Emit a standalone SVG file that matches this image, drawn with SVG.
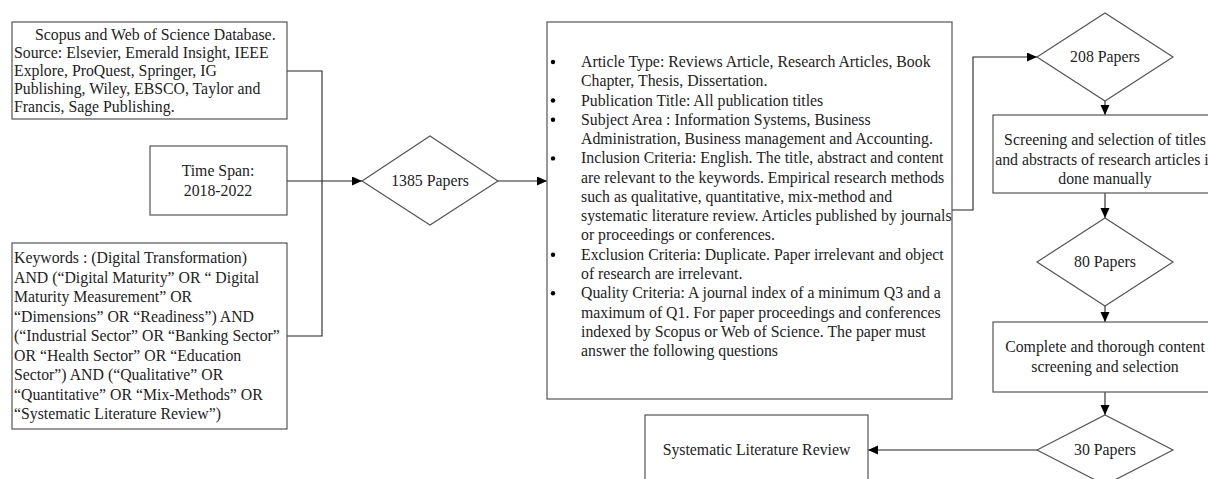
<svg xmlns="http://www.w3.org/2000/svg" width="1208" height="479" viewBox="0 0 1208 479">
<style>
.box{fill:#fff;stroke:#555;stroke-width:1.2}
.t{font-family:"Liberation Serif","Times New Roman",serif;font-size:15.8px;fill:#222}
.c{text-anchor:middle}
.ln{fill:none;stroke:#222;stroke-width:1.1}
</style>
<defs>
<marker id="ah" markerUnits="userSpaceOnUse" markerWidth="12" markerHeight="10" refX="10" refY="4.5" orient="auto">
<path d="M0,0 L10,4.5 L0,9 Z" fill="#000"/>
</marker>
</defs>
<rect width="1208" height="479" fill="#fff"/>
<g id="connectors">
<polyline class="ln" points="287,71 322,71 322,336 287,336"/>
<line class="ln" x1="287" y1="181" x2="362" y2="181" marker-end="url(#ah)"/>
<line class="ln" x1="498" y1="181" x2="547" y2="181" marker-end="url(#ah)"/>
<polyline class="ln" points="952,210 973,210 973,57 1037,57" marker-end="url(#ah)"/>
<line class="ln" x1="1105" y1="101" x2="1105" y2="115" marker-end="url(#ah)"/>
<line class="ln" x1="1105" y1="193" x2="1105" y2="218" marker-end="url(#ah)"/>
<line class="ln" x1="1105" y1="306" x2="1105" y2="322" marker-end="url(#ah)"/>
<line class="ln" x1="1105" y1="392" x2="1105" y2="415" marker-end="url(#ah)"/>
<line class="ln" x1="1037" y1="450" x2="868" y2="450" marker-end="url(#ah)"/>
</g>
<g id="sources">
<rect class="box" x="12" y="22" width="275" height="97"/>
<text class="t" x="35" y="40">Scopus and Web of Science Database.</text>
<text class="t" x="14" y="58">Source: Elsevier, Emerald Insight, IEEE</text>
<text class="t" x="14" y="76">Explore, ProQuest, Springer, IG</text>
<text class="t" x="14" y="94">Publishing, Wiley, EBSCO, Taylor and</text>
<text class="t" x="14" y="112">Francis, Sage Publishing.</text>
</g>
<g id="timespan">
<rect class="box" x="150" y="146" width="137" height="69"/>
<text class="t c" x="218" y="176">Time Span:</text>
<text class="t c" x="218" y="196">2018-2022</text>
</g>
<g id="keywords">
<rect class="box" x="12" y="243" width="275" height="186"/>
<text class="t" x="14" y="263">Keywords : (Digital Transformation)</text>
<text class="t" x="14" y="282.5">AND (“Digital Maturity” OR “ Digital</text>
<text class="t" x="14" y="302">Maturity Measurement” OR</text>
<text class="t" x="14" y="321.5">“Dimensions” OR “Readiness”) AND</text>
<text class="t" x="14" y="341">(“Industrial Sector” OR “Banking Sector”</text>
<text class="t" x="14" y="360.5">OR “Health Sector” OR “Education</text>
<text class="t" x="14" y="380">Sector”) AND (“Qualitative” OR</text>
<text class="t" x="14" y="399.5">“Quantitative” OR “Mix-Methods” OR</text>
<text class="t" x="14" y="419">“Systematic Literature Review”)</text>
</g>
<g id="d1385">
<polygon class="box" points="362,181 430,136 498,181 430,225"/>
<text class="t c" x="430" y="186">1385 Papers</text>
</g>
<g id="criteria">
<rect class="box" x="547" y="22" width="405" height="377"/>
<g fill="#000">
<circle cx="553" cy="62" r="2.2"/>
<circle cx="553" cy="100.5" r="2.2"/>
<circle cx="553" cy="119.8" r="2.2"/>
<circle cx="553" cy="158.4" r="2.2"/>
<circle cx="553" cy="254.7" r="2.2"/>
<circle cx="553" cy="293.2" r="2.2"/>
</g>
<text class="t" x="581" y="67">Article Type: Reviews Article, Research Articles, Book</text>
<text class="t" x="581" y="86.3">Chapter, Thesis, Dissertation.</text>
<text class="t" x="581" y="105.5">Publication Title: All publication titles</text>
<text class="t" x="581" y="124.8">Subject Area : Information Systems, Business</text>
<text class="t" x="581" y="144.1">Administration, Business management and Accounting.</text>
<text class="t" x="581" y="163.4">Inclusion Criteria: English. The title, abstract and content</text>
<text class="t" x="581" y="182.6">are relevant to the keywords. Empirical research methods</text>
<text class="t" x="581" y="201.9">such as qualitative, quantitative, mix-method and</text>
<text class="t" x="581" y="221.2">systematic literature review. Articles published by journals</text>
<text class="t" x="581" y="240.4">or proceedings or conferences.</text>
<text class="t" x="581" y="259.7">Exclusion Criteria: Duplicate. Paper irrelevant and object</text>
<text class="t" x="581" y="279">of research are irrelevant.</text>
<text class="t" x="581" y="298.2">Quality Criteria: A journal index of a minimum Q3 and a</text>
<text class="t" x="581" y="317.5">maximum of Q1. For paper proceedings and conferences</text>
<text class="t" x="581" y="336.8">indexed by Scopus or Web of Science. The paper must</text>
<text class="t" x="581" y="356">answer the following questions</text>
</g>
<g id="d208">
<polygon class="box" points="1037,57 1105,13 1173,57 1105,101"/>
<text class="t c" x="1105" y="62">208 Papers</text>
</g>
<g id="screening1">
<rect class="box" x="993" y="115" width="224" height="78"/>
<text class="t c" x="1105" y="145">Screening and selection of titles</text>
<text class="t c" x="1105" y="164.5">and abstracts of research articles is</text>
<text class="t c" x="1105" y="184">done manually</text>
</g>
<g id="d80">
<polygon class="box" points="1037,262 1105,218 1173,262 1105,306"/>
<text class="t c" x="1105" y="267">80 Papers</text>
</g>
<g id="screening2">
<rect class="box" x="993" y="322" width="224" height="70"/>
<text class="t c" x="1105" y="352">Complete and thorough content</text>
<text class="t c" x="1105" y="372">screening and selection</text>
</g>
<g id="d30">
<polygon class="box" points="1037,450 1105,415 1173,450 1105,485"/>
<text class="t c" x="1105" y="455">30 Papers</text>
</g>
<g id="slr">
<rect class="box" x="645" y="415" width="223" height="80"/>
<text class="t c" x="756.5" y="455">Systematic Literature Review</text>
</g>
</svg>
